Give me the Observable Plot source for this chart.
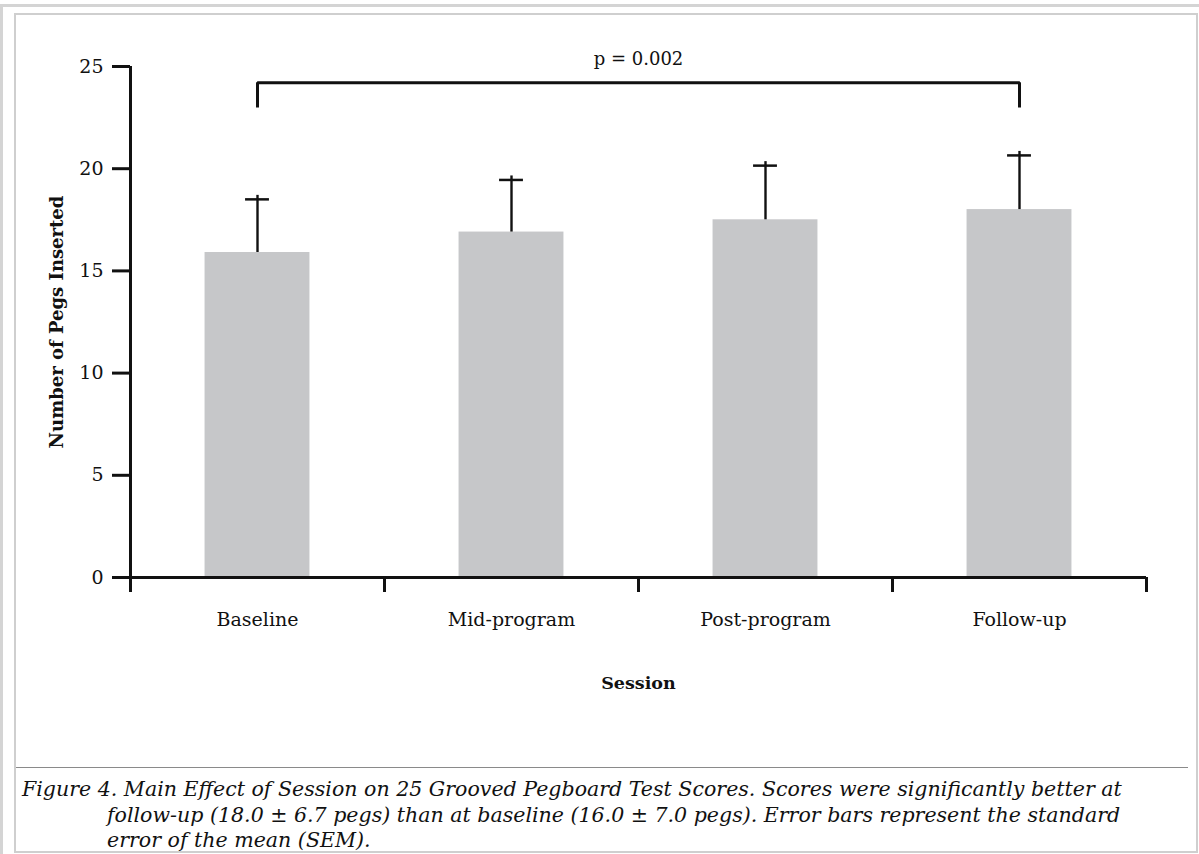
<!DOCTYPE html>
<html>
<head>
<meta charset="utf-8">
<script src="https://cdn.jsdelivr.net/npm/d3@7"></script>
<script src="https://cdn.jsdelivr.net/npm/@observablehq/plot@0.6"></script>
<style>
  html, body { margin: 0; padding: 0; background: #fff; }
  #page { position: relative; width: 1199px; height: 854px; overflow: hidden; font-family: "DejaVu Serif", serif; }
  #outer { position: absolute; left: 0; top: 4px; width: 1199px; height: 850px; border-top: 3px solid #d4d4d4; border-left: 3px solid #d4d4d4; box-sizing: border-box; }
  #inner { position: absolute; left: 14px; top: 13px; width: 1184px; height: 840px; border: 2px solid #cfcfcf; box-sizing: border-box; background: #fff; }
  #chart { position: absolute; left: 0; top: 0; }
  #sep { position: absolute; left: 16px; top: 767px; width: 1172px; height: 0; border-top: 1.5px solid #8a8a8a; }
  #caption { position: absolute; left: 22px; top: 776px; width: 1170px; font-family: "DejaVu Serif", serif; font-style: italic; font-size: 19px; line-height: 26px; color: #111; white-space: nowrap; }
  #caption div.cont { padding-left: 85px; }
  #caption div.last { line-height: 24px; }
</style>
</head>
<body>
<div id="page">
  <div id="outer"></div>
  <div id="inner"></div>
  <div id="chart"></div>
  <div id="sep"></div>
  <div id="caption"></div>
</div>
<script>
// ---- Data ----
const sessions = ["Baseline", "Mid-program", "Post-program", "Follow-up"];
const means = [15.9, 16.9, 17.5, 18.0];
const sems = [2.6, 2.55, 2.65, 2.65];
const yTicks = [0, 5, 10, 15, 20, 25];
const bracketFrom = "Baseline";
const bracketTo = "Follow-up";
const bracketTop = 24.2;
const bracketBottom = 23.0;
const bracketLabelY = 25.35;
const bracketLabel = "p = 0.002";
const captionLines = [
  "Figure 4. Main Effect of Session on 25 Grooved Pegboard Test Scores. Scores were significantly better at",
  "follow-up (18.0 \u00B1 6.7 pegs) than at baseline (16.0 \u00B1 7.0 pegs). Error bars represent the standard",
  "error of the mean (SEM)."
];
const yLabel = "Number of Pegs Inserted";
const xLabel = "Session";

// ---- Build table ----
const data = sessions.map((s, i) => ({session: s, i, mean: means[i], sem: sems[i], top: means[i] + sems[i]}));
const center = d => d.i + 0.5;
const barHalf = 0.2065;
const capHalf = 0.047;

const i0 = sessions.indexOf(bracketFrom), i1 = sessions.indexOf(bracketTo);
const bracketPts = [
  {x: i0 + 0.5, y: bracketBottom},
  {x: i0 + 0.5, y: bracketTop},
  {x: i1 + 0.5, y: bracketTop},
  {x: i1 + 0.5, y: bracketBottom}
];

const boundaries = d3.range(sessions.length + 1);
const centers = sessions.map((s, i) => i + 0.5);

const chart = Plot.plot({
  width: 1199,
  height: 740,
  marginLeft: 130,
  marginRight: 53,
  marginTop: 66,
  marginBottom: 163,
  style: {fontFamily: "DejaVu Serif, serif", fontSize: "19px", color: "#111", background: "transparent", overflow: "visible"},
  x: {domain: [0, sessions.length], axis: null},
  y: {domain: [0, 25], axis: null},
  marks: [
    Plot.rectY(data, {x1: d => center(d) - barHalf, x2: d => center(d) + barHalf, y1: 0, y2: "mean", fill: "#c6c7c9"}),
    Plot.ruleX(data, {x: center, y1: "mean", y2: "top", insetBottom: 4, stroke: "#111", strokeWidth: 2.4}),
    Plot.ruleY(data, {y: "top", x1: d => center(d) - capHalf, x2: d => center(d) + capHalf, stroke: "#111", strokeWidth: 2.5}),
    Plot.ruleY([0], {stroke: "#111", strokeWidth: 3}),
    Plot.ruleX([0], {stroke: "#111", strokeWidth: 3}),
    Plot.axisY({ticks: yTicks, tickSize: 18, tickPadding: 9, strokeWidth: 3, stroke: "#111", fontSize: 19, label: null}),
    Plot.axisX({ticks: boundaries, tickSize: 15, tickFormat: () => "", strokeWidth: 3, stroke: "#111", label: null}),
    Plot.axisX({ticks: centers, tickSize: 0, tickPadding: 35, tickFormat: d => sessions[Math.floor(d)], fontSize: 19, label: null}),
    Plot.text([xLabel], {frameAnchor: "bottom", dy: 111, fontWeight: "bold", fontSize: 17.5, fill: "#111"}),
    Plot.text([yLabel], {frameAnchor: "left", dx: -73, rotate: -90, textAnchor: "middle", fontWeight: "bold", fontSize: 18, fill: "#111"}),
    Plot.line(bracketPts, {x: "x", y: "y", stroke: "#111", strokeWidth: 3, strokeLinejoin: "miter", strokeLinecap: "butt"}),
    Plot.text([bracketLabel], {x: (i0 + i1 + 1) / 2, y: bracketLabelY, fontSize: 18, fill: "#111"})
  ]
});
document.getElementById("chart").appendChild(chart);

// caption, fitted so the first line spans the same width as in the figure
const cap = document.getElementById("caption");
cap.innerHTML = captionLines.map((t, k) => {
  const cls = [k ? "cont" : "", k === captionLines.length - 1 ? "last" : ""].join(" ");
  return `<div class="${cls}">${t}</div>`;
}).join("");
const ctx = document.createElement("canvas").getContext("2d");
ctx.font = "italic 19px 'DejaVu Serif'";
const w = ctx.measureText(captionLines[0]).width;
const fs = Math.min(22, Math.max(16, 19 * 1100 / w));
cap.style.fontSize = fs + "px";
</script>
</body>
</html>
